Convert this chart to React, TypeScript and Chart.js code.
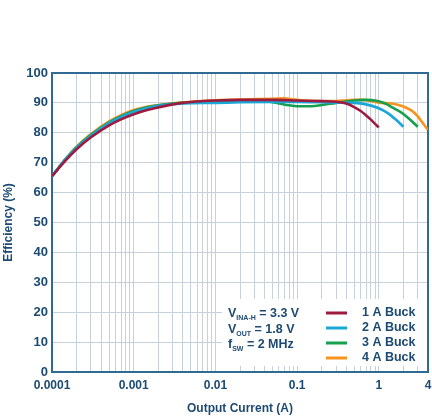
import { useEffect, useRef } from "react";
import Chart from "chart.js/auto";

// output current (A) and efficiency (%) per converter
const buck1X = [0.0001, 0.00015, 0.0002, 0.0003, 0.0005, 0.0007, 0.001, 0.0015, 0.002, 0.003, 0.005, 0.01, 0.02, 0.05, 0.1, 0.2, 0.3, 0.4, 0.5, 0.6, 0.7, 0.8, 0.9, 1];
const buck1Y = [65.5, 71, 74.5, 78.5, 82.5, 84.5, 86.2, 87.7, 88.5, 89.5, 90.3, 90.8, 91, 91, 90.8, 90.6, 90.4, 89.8, 88.6, 87.3, 85.8, 84.4, 83, 81.8];

const buck2X = [0.0001, 0.00015, 0.0002, 0.0003, 0.0005, 0.0007, 0.001, 0.0015, 0.002, 0.003, 0.005, 0.01, 0.02, 0.05, 0.1, 0.2, 0.3, 0.5, 0.7, 1, 1.3, 1.6, 2];
const buck2Y = [65.5, 71.5, 75, 79, 83.2, 85.3, 87, 88.3, 89, 89.6, 89.9, 90, 90.2, 90.3, 90.3, 90.2, 90.1, 90, 89.5, 88.2, 86.5, 84.5, 82];

const buck3X = [0.0001, 0.00015, 0.0002, 0.0003, 0.0005, 0.0007, 0.001, 0.0015, 0.002, 0.003, 0.005, 0.01, 0.02, 0.04, 0.06, 0.08, 0.1, 0.15, 0.2, 0.3, 0.5, 0.7, 0.9, 1.2, 1.5, 2, 2.5, 3];
const buck3Y = [65.5, 71.5, 75.2, 79.3, 83.5, 85.6, 87.3, 88.6, 89.2, 89.8, 90.2, 90.5, 90.7, 90.6, 89.8, 89.2, 88.9, 88.9, 89.3, 90, 90.8, 91, 90.8, 89.8, 88.3, 86.3, 84, 82];

const buck4X = [0.0001, 0.00015, 0.0002, 0.0003, 0.0005, 0.0007, 0.001, 0.0015, 0.002, 0.003, 0.005, 0.01, 0.02, 0.05, 0.07, 0.09, 0.12, 0.2, 0.3, 0.4, 0.6, 0.8, 1, 1.5, 2, 2.5, 3, 3.5, 4];
const buck4Y = [65.5, 71.6, 75.4, 79.6, 83.8, 85.9, 87.6, 88.8, 89.3, 89.9, 90.4, 90.9, 91.1, 91.4, 91.5, 91.2, 90.8, 90.6, 90.6, 90.9, 91.1, 90.6, 90.1, 89.7, 88.8, 87.5, 85.5, 83, 81];

const seriesLabels = ["1 A Buck", "2 A Buck", "3 A Buck", "4 A Buck"];
const seriesColors = ["#9e1b3f", "#1ba6d8", "#15a04f", "#f7941e"];

const xLabels = [0.0001, 0.001, 0.01, 0.1, 1, 4];
const decades = [0.0001, 0.001, 0.01, 0.1, 1];
const conditions = [
  ["V", "INA-H", " = 3.3 V"],
  ["V", "OUT", " = 1.8 V"],
  ["f", "SW", " = 2 MHz"],
];

const TEXT = "#1c4a72";
const AXIS = "#2f6a92";
const GRID = "#c6d1db";
const FONT = '"Liberation Sans", Arial, sans-serif';

const pts = (xs: number[], ys: number[]) => xs.map((x, i) => ({ x, y: ys[i] }));

export default function App() {
  const chartRef = useRef<HTMLCanvasElement>(null);
  const chartInstance = useRef<Chart | null>(null);

  useEffect(() => {
    const ctx = chartRef.current?.getContext("2d");
    if (!ctx) return;
    if (chartInstance.current) chartInstance.current.destroy();

    const xs = [buck1X, buck2X, buck3X, buck4X];
    const ys = [buck1Y, buck2Y, buck3Y, buck4Y];

    const framePlugin = {
      id: "frame",
      beforeDatasetsDraw(chart: any) {
        const { left, top, right, bottom } = chart.chartArea;
        const c = chart.ctx;
        c.save();
        c.strokeStyle = AXIS;
        c.lineWidth = 2;
        c.strokeRect(left, top, right - left, bottom - top);
        c.restore();
      },
    };

    const legendPlugin = {
      id: "boxLegend",
      afterDraw(chart: any) {
        const c = chart.ctx;
        c.save();
        c.fillStyle = "#ffffff";
        c.fillRect(222, 299, 205, 67);
        c.fillStyle = TEXT;
        c.textBaseline = "alphabetic";
        conditions.forEach(([a, sub, b], i) => {
          const y = 317 + i * 15.5;
          let x = 228;
          c.font = `bold 12.5px ${FONT}`;
          c.fillText(a, x, y);
          x += c.measureText(a).width;
          c.font = `bold 7px ${FONT}`;
          c.fillText(sub, x, y + 3);
          x += c.measureText(sub).width;
          c.font = `bold 12.5px ${FONT}`;
          c.fillText(b, x, y);
        });
        c.textBaseline = "middle";
        chart.data.datasets.forEach((ds: any, i: number) => {
          const y = 313 + i * 15;
          c.strokeStyle = ds.borderColor;
          c.lineWidth = 3;
          c.beginPath();
          c.moveTo(326, y);
          c.lineTo(347, y);
          c.stroke();
          c.fillStyle = TEXT;
          c.font = `bold 12.5px ${FONT}`;
          c.fillText(ds.label, 362, y);
        });
        c.restore();
      },
    };

    chartInstance.current = new Chart(ctx, {
      type: "line",
      data: {
        datasets: seriesLabels.map((label, i) => ({
          label,
          data: pts(xs[i], ys[i]),
          borderColor: seriesColors[i],
          backgroundColor: seriesColors[i],
          borderWidth: 2.6,
          pointRadius: 0,
          cubicInterpolationMode: "monotone" as const,
        })),
      },
      options: {
        responsive: false,
        animation: false,
        layout: { padding: { top: 73, right: 4, left: 0, bottom: 0 } },
        plugins: { legend: { display: false }, tooltip: { enabled: false } },
        scales: {
          x: {
            type: "logarithmic",
            min: 0.0001,
            max: 4,
            afterBuildTicks: (scale: any) => {
              const t: { value: number }[] = [];
              decades.forEach((d) => {
                for (let k = 1; k <= 9; k++) {
                  const v = d * k;
                  if (v <= 4.0001) t.push({ value: v });
                }
              });
              scale.ticks = t;
            },
            afterFit: (scale: any) => {
              scale.height = 47;
              scale.paddingLeft = 0;
              scale.paddingRight = 0;
            },
            ticks: {
              autoSkip: false,
              maxRotation: 0,
              padding: 6,
              color: TEXT,
              font: { family: FONT, size: 12, weight: "bold" },
              callback: (value: any) => {
                const v = Number(value);
                const hit = xLabels.find((l) => Math.abs(l - v) / l < 1e-6);
                return hit !== undefined ? String(hit) : "";
              },
            },
            grid: { color: GRID, lineWidth: 1, drawTicks: false },
            border: { display: false },
            title: {
              display: true,
              text: "Output Current (A)",
              color: TEXT,
              font: { family: FONT, size: 12, weight: "bold" },
              padding: { top: 0, bottom: 3 },
            },
          },
          y: {
            min: 0,
            max: 100,
            afterFit: (scale: any) => {
              scale.width = 52;
              scale.paddingTop = 0;
              scale.paddingBottom = 0;
            },
            ticks: {
              stepSize: 10,
              padding: 4,
              color: TEXT,
              font: { family: FONT, size: 13, weight: "bold" },
            },
            grid: { color: GRID, lineWidth: 1, drawTicks: false },
            border: { display: false },
            title: {
              display: true,
              text: "Efficiency (%)",
              color: TEXT,
              font: { family: FONT, size: 12, weight: "bold" },
              padding: { top: 1, bottom: 0 },
            },
          },
        },
      },
      plugins: [framePlugin, legendPlugin],
    });

    return () => {
      chartInstance.current?.destroy();
    };
  }, []);

  return (
    <div style={{ position: "absolute", left: 0, top: 0, width: 432, height: 419, background: "#fff" }}>
      <canvas ref={chartRef} width={432} height={419} style={{ width: 432, height: 419 }} />
    </div>
  );
}
